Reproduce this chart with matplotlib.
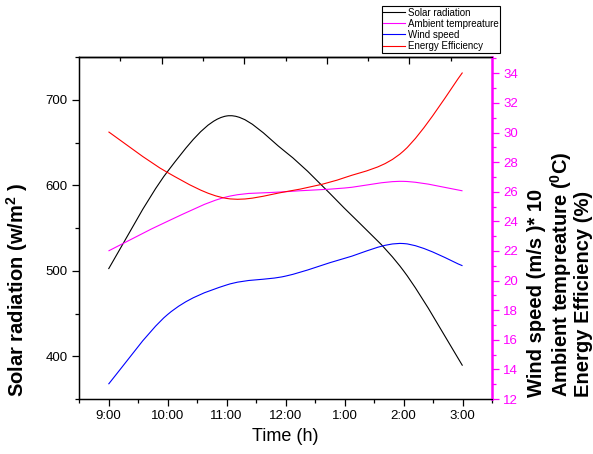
import matplotlib
matplotlib.use("Agg")
import matplotlib.pyplot as plt
from matplotlib.path import Path
from matplotlib.patches import PathPatch
from matplotlib.lines import Line2D
from matplotlib.ticker import MultipleLocator, FixedLocator

plt.rcParams['font.family'] = ['Liberation Sans', 'DejaVu Sans']
plt.rcParams['mathtext.fontset'] = 'custom'
plt.rcParams['mathtext.rm'] = 'Liberation Sans'
plt.rcParams['mathtext.bf'] = 'Liberation Sans:bold'

# data
hours = ["9:00", "10:00", "11:00", "12:00", "1:00", "2:00", "3:00"]
solar = [502, 616, 681, 639, 573, 500, 389]          # w/m^2, left axis
ambient = [22.0, 24.0, 25.65, 26.0, 26.25, 26.7, 26.06]  # deg C, right axis
wind = [13.0, 17.7, 19.7, 20.3, 21.5, 22.5, 21.0]        # (m/s)*10, right axis
efficiency = [30.05, 27.3, 25.55, 26.0, 26.95, 28.75, 34.05]  # %, right axis


def smooth_path(xs, ys):
    # cubic bezier path through the points (catmull-rom tangents)
    n = len(xs)
    verts = [(xs[0], ys[0])]
    codes = [Path.MOVETO]
    for i in range(n - 1):
        i0 = max(i - 1, 0)
        i3 = min(i + 2, n - 1)
        c1 = (xs[i] + (xs[i + 1] - xs[i0]) / 6, ys[i] + (ys[i + 1] - ys[i0]) / 6)
        c2 = (xs[i + 1] - (xs[i3] - xs[i]) / 6, ys[i + 1] - (ys[i3] - ys[i]) / 6)
        verts += [c1, c2, (xs[i + 1], ys[i + 1])]
        codes += [Path.CURVE4] * 3
    return Path(verts, codes)


fig = plt.figure(figsize=(5.93, 4.54), dpi=100)
ax = fig.add_axes([79 / 593, 1 - 399 / 454, 413 / 593, 342 / 454])
ax2 = ax.twinx()

x = list(range(len(hours)))
lw = 0.8
ax.add_patch(PathPatch(smooth_path(x, solar), fill=False, edgecolor='black', lw=lw))
ax2.add_patch(PathPatch(smooth_path(x, ambient), fill=False, edgecolor='#ff00ff', lw=lw))
ax2.add_patch(PathPatch(smooth_path(x, wind), fill=False, edgecolor='#0000ff', lw=lw))
ax2.add_patch(PathPatch(smooth_path(x, efficiency), fill=False, edgecolor='#ff0000', lw=lw))

ax.set_xlim(-0.5, 6.5)
ax.set_ylim(350, 750)
ax2.set_ylim(12, 35.1)

ax.set_xticks(x)
ax.set_xticklabels(hours)
ax.xaxis.set_minor_locator(MultipleLocator(0.5))
ax.yaxis.set_major_locator(MultipleLocator(100))
ax.yaxis.set_minor_locator(MultipleLocator(50))
ax2.yaxis.set_major_locator(MultipleLocator(2))
ax2.yaxis.set_minor_locator(MultipleLocator(1))

ax.tick_params(axis='both', which='major', direction='out', length=5, width=0.9,
               labelsize=9.5, pad=3)
ax.tick_params(axis='both', which='minor', direction='out', length=3, width=0.9)
ax2.tick_params(axis='y', which='major', direction='out', length=5, width=0.9,
                colors='#ff00ff', labelsize=9.5, pad=3)
ax2.tick_params(axis='y', which='minor', direction='out', length=3, width=0.9,
                colors='#ff00ff')

for s in ['left', 'bottom', 'top']:
    ax.spines[s].set_linewidth(1.0)
ax2.spines['right'].set_color('#ff00ff')
ax2.spines['right'].set_linewidth(1.8)
ax.spines['right'].set_visible(False)

# inward ticks on the top edge
top = ax.secondary_xaxis('top')
top.xaxis.set_major_locator(FixedLocator([-0.5 + 1.4 * k for k in range(1, 5)]))
top.xaxis.set_minor_locator(FixedLocator([-0.5 + 0.7 + 1.4 * k for k in range(5)]))
top.tick_params(which='major', direction='in', length=5, width=0.9, labeltop=False)
top.tick_params(which='minor', direction='in', length=3, width=0.9)
top.spines['top'].set_linewidth(1.0)

ax.set_xlabel("Time (h)", fontsize=13, labelpad=4)
fig.text(17 / 593, 1 - 397 / 454, r"Solar radiation (w/m$^{\mathbf{2}}$ )",
         rotation=90, ha='center', va='bottom', fontsize=14.5, fontweight='bold')
right_labels = [r"Wind speed (m/s )* 10",
                r"Ambient tempreature ($^{\mathbf{0}}$C)",
                r"Energy Efficiency (%)"]
for xp, lab in zip([537, 561, 583.5], right_labels):
    fig.text(xp / 593, 1 - 397 / 454, lab, rotation=90, ha='center', va='bottom',
             fontsize=14.5, fontweight='bold')

handles = [Line2D([], [], color='black', lw=lw),
           Line2D([], [], color='#ff00ff', lw=lw),
           Line2D([], [], color='#0000ff', lw=lw),
           Line2D([], [], color='#ff0000', lw=lw)]
labels = ["Solar radiation", "Ambient tempreature", "Wind speed", "Energy Efficiency"]
leg = fig.legend(handles, labels, loc='lower left',
                 bbox_to_anchor=(381.7 / 593, 1 - 52.5 / 454), fontsize=7,
                 frameon=True, fancybox=False, framealpha=1, edgecolor='black',
                 borderpad=0.15, borderaxespad=0, handlelength=2.2,
                 handletextpad=0.35, labelspacing=0.12)
leg.get_frame().set_linewidth(0.8)

fig.savefig("out.png", dpi=100)
